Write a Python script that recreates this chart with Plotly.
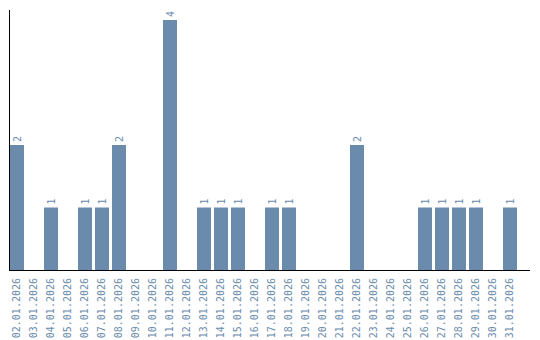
import plotly.graph_objects as go

dates = ["02.01.2026", "03.01.2026", "04.01.2026", "05.01.2026", "06.01.2026",
         "07.01.2026", "08.01.2026", "09.01.2026", "10.01.2026", "11.01.2026",
         "12.01.2026", "13.01.2026", "14.01.2026", "15.01.2026", "16.01.2026",
         "17.01.2026", "18.01.2026", "19.01.2026", "20.01.2026", "21.01.2026",
         "22.01.2026", "23.01.2026", "24.01.2026", "25.01.2026", "26.01.2026",
         "27.01.2026", "28.01.2026", "29.01.2026", "30.01.2026", "31.01.2026"]
counts = [2, 0, 1, 0, 1, 1, 2, 0, 0, 4,
          0, 1, 1, 1, 0, 1, 1, 0, 0, 0,
          2, 0, 0, 0, 1, 1, 1, 1, 0, 1]

color = "#6a8bac"
labels = [str(v) if v else "" for v in counts]

fig = go.Figure(go.Bar(
    x=dates, y=counts, marker_color=color, marker_line_width=0,
    text=labels, textposition="outside", textangle=-90,
    textfont=dict(family="DejaVu Sans Mono", size=10, color=color),
    cliponaxis=False,
))

half = 0.5 - 0.088
fig.update_layout(
    width=540, height=340,
    margin=dict(l=10, r=10, t=10, b=70, autoexpand=False),
    paper_bgcolor="white", plot_bgcolor="white",
    bargap=0.176, showlegend=False,
    xaxis=dict(type="category", range=[-half, -half + 520 / 17], automargin=False,
               showline=True, linecolor="black", linewidth=1,
               showgrid=False, ticks="", tickangle=-90, ticklabelstandoff=3,
               tickfont=dict(family="DejaVu Sans Mono", size=10, color=color)),
    yaxis=dict(range=[0, 4.16], showline=True, linecolor="black", linewidth=1,
               automargin=False,
               showgrid=False, zeroline=False, showticklabels=False, ticks=""),
)

fig.write_html("out.html")
